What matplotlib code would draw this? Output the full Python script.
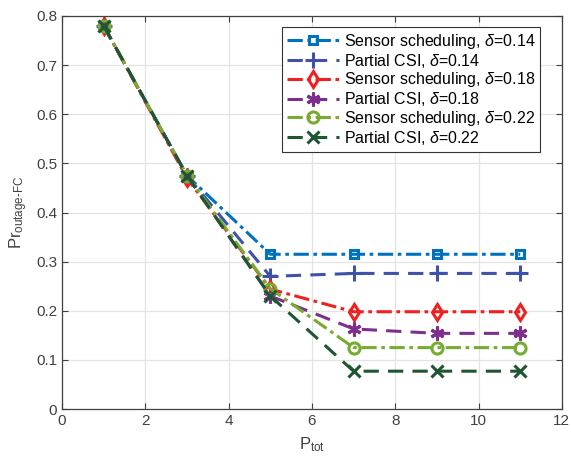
import matplotlib
matplotlib.use("Agg")
import matplotlib.pyplot as plt

plt.rcParams['font.family'] = ['Liberation Sans', 'DejaVu Sans']
plt.rcParams['mathtext.fontset'] = 'custom'
plt.rcParams['mathtext.rm'] = 'Liberation Sans'
plt.rcParams['mathtext.it'] = 'Liberation Sans:italic'
plt.rcParams['mathtext.bf'] = 'Liberation Sans:bold'

P_tot = [1, 3, 5, 7, 9, 11]
sensor_014 = [0.780, 0.475, 0.315, 0.315, 0.315, 0.315]
partial_014 = [0.780, 0.475, 0.270, 0.276, 0.276, 0.276]
sensor_018 = [0.780, 0.470, 0.244, 0.198, 0.198, 0.198]
partial_018 = [0.780, 0.475, 0.230, 0.163, 0.154, 0.154]
sensor_022 = [0.780, 0.475, 0.245, 0.125, 0.125, 0.125]
partial_022 = [0.780, 0.475, 0.230, 0.077, 0.077, 0.077]

labels = [r'Sensor scheduling, $\delta$=0.14', r'Partial CSI, $\delta$=0.14',
          r'Sensor scheduling, $\delta$=0.18', r'Partial CSI, $\delta$=0.18',
          r'Sensor scheduling, $\delta$=0.22', r'Partial CSI, $\delta$=0.22']
series = [sensor_014, partial_014, sensor_018, partial_018, sensor_022, partial_022]
colors = ['#0072BD', '#3F51A8', '#F02020', '#7E2F8E', '#77AC30', '#1E5631']
styles = [(0, (5, 1.5, 1.2, 1.5)), (0, (5, 3)), (0, (5, 1.5, 1.2, 1.5)),
          (0, (5, 3)), (0, (5, 1.5, 1.2, 1.5)), (0, (5, 3))]
markers = ['s', '+', 'd', (6, 2, 0), 'o', 'x']
msizes = [6, 11, 8, 10, 8, 9]

fig = plt.figure(figsize=(5.71, 4.57), dpi=100)
ax = fig.add_axes([0.1086, 0.105, 0.8754, 0.860])

for y, lab, c, ls, m, ms in zip(series, labels, colors, styles, markers, msizes):
    ax.plot(P_tot, y, linestyle=ls, color=c, marker=m, markersize=ms, mfc='none',
            mew=2.2, linewidth=2.2, label=lab)

ax.set_xlim(0, 12)
ax.set_ylim(0, 0.8)
ax.set_xticks(range(0, 13, 2))
ax.set_yticks([0, 0.1, 0.2, 0.3, 0.4, 0.5, 0.6, 0.7, 0.8])
ax.set_yticklabels(['0', '0.1', '0.2', '0.3', '0.4', '0.5', '0.6', '0.7', '0.8'])
ax.grid(True, color='#e3e3e3', linewidth=0.9)
ax.set_axisbelow(True)
ax.tick_params(direction='in', top=True, right=True, labelsize=11, colors='#404040',
               length=4, width=0.8)
for s in ax.spines.values():
    s.set_color('#404040')
    s.set_linewidth(0.9)

ax.set_xlabel(r'P$_{\rm tot}$', fontsize=12, color='#404040', labelpad=5)
ax.set_ylabel(r'Pr$_{\rm outage\text{-}FC}$', fontsize=12, color='#404040', labelpad=4)

leg = ax.legend(loc='upper right', bbox_to_anchor=(0.957, 0.972), fontsize=11.5,
                frameon=True, fancybox=False, edgecolor='#333333', framealpha=1,
                handlelength=3.3, handletextpad=0.3, labelspacing=0.05,
                borderpad=0.3, borderaxespad=0)
leg.get_frame().set_linewidth(0.8)

fig.savefig('out.png', dpi=100)
